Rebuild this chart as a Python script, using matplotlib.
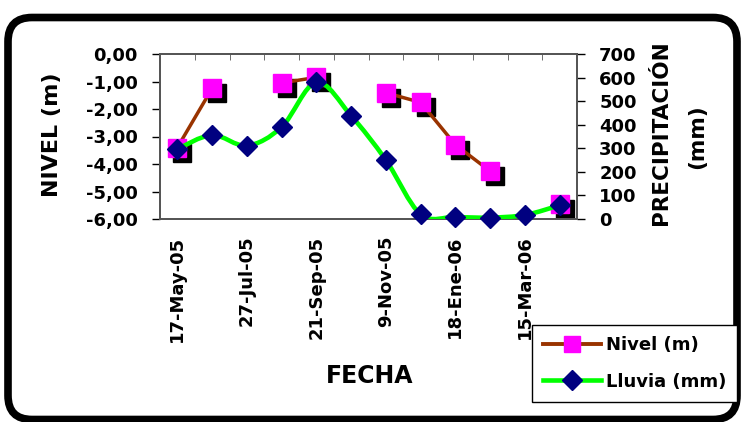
import matplotlib
matplotlib.use("Agg")
import matplotlib.pyplot as plt
import numpy as np
from matplotlib.path import Path
from matplotlib.patches import PathPatch, FancyBboxPatch
from matplotlib.lines import Line2D
from matplotlib.ticker import FuncFormatter
from matplotlib.transforms import offset_copy, IdentityTransform

plt.rcParams['font.family'] = ['DejaVu Sans']
plt.rcParams['font.weight'] = 'bold'

# data
fechas = ["17-May-05", "", "27-Jul-05", "", "21-Sep-05", "", "9-Nov-05", "",
          "18-Ene-06", "", "15-Mar-06", ""]
nivel = [-3.40, -1.25, np.nan, -1.05, -0.85, np.nan, -1.41, -1.76, -3.30, -4.26, np.nan, -5.45]
lluvia = [297, 356, 311, 390, 580, 438, 250, 20, 9, 6, 17, 58]

x = np.arange(len(fechas))
W, H = 742, 422

fig = plt.figure(figsize=(7.42, 4.22), dpi=100)
ax = fig.add_axes([160/W, 1-219/H, 417/W, 165/H])
ax2 = ax.twinx()

# nivel with black shadow
shadow = offset_copy(ax.transData, fig=fig, x=5, y=-5, units='dots')
ax.plot(x, nivel, linestyle='none', marker='s', markersize=12.5, color='black',
        transform=shadow, zorder=2, clip_on=False)
ax.plot(x, nivel, color='#993300', linewidth=2.5, zorder=3)
ax.plot(x, nivel, linestyle='none', marker='s', markersize=12.5, markerfacecolor='#ff00ff',
        markeredgecolor='#ff00ff', zorder=4, clip_on=False)

ax.set_xlim(-0.5, len(x) - 0.5)
ax.set_ylim(-6, 0)
ax.set_yticks(np.arange(-6, 0.1, 1))
ax.yaxis.set_major_formatter(FuncFormatter(lambda v, p: f"{v:.2f}".replace('.', ',').replace('-0,00', '0,00')))
ax.set_xticks(x)
ax.set_xticklabels(fechas, rotation=90, fontsize=13, fontweight='bold')
ax.set_xticks(x[:-1] + 0.5, minor=True)
ax.tick_params(axis='x', which='major', length=0, pad=12)
ax.tick_params(axis='x', which='minor', bottom=False, top=True, direction='in', length=4, color='#555555')
ax.tick_params(axis='y', length=6, width=1, pad=10, labelsize=13)

# smoothed rain line (bezier through the points)
pts = np.column_stack([x, lluvia]).astype(float)
verts = [tuple(pts[0])]
codes = [Path.MOVETO]
n = len(pts)
for i in range(n - 1):
    p0 = pts[max(i - 1, 0)]
    p1 = pts[i]
    p2 = pts[i + 1]
    p3 = pts[min(i + 2, n - 1)]
    c1 = p1 + (p2 - p0) / 6
    c2 = p2 - (p3 - p1) / 6
    verts += [tuple(c1), tuple(c2), tuple(p2)]
    codes += [Path.CURVE4] * 3
ax2.add_patch(PathPatch(Path(verts, codes), fill=False, edgecolor='#00ff00', linewidth=3.3, zorder=3))
ax2.plot(x, lluvia, linestyle='none', marker='D', markersize=10.5, color='#000080', zorder=4, clip_on=False)
ax2.set_ylim(0, 700)
ax2.set_yticks(np.arange(0, 701, 100))
ax2.tick_params(axis='y', length=6, width=1, pad=10, labelsize=13)

for a in (ax, ax2):
    for s in a.spines.values():
        s.set_color('#555555')
        s.set_linewidth(1.3)

# axis titles
fig.text(52/W, 1-135/H, "NIVEL (m)", rotation=90, ha='center', va='center', fontsize=16, fontweight='bold')
fig.text(661/W, 1-133/H, "PRECIPITACIÓN", rotation=90, ha='center', va='center', fontsize=15.5, fontweight='bold')
fig.text(697/W, 1-137/H, "(mm)", rotation=90, ha='center', va='center', fontsize=15.5, fontweight='bold')
fig.text(370/W, 1-376/H, "FECHA", ha='center', va='center', fontsize=17, fontweight='bold')

# legend
handles = [
    Line2D([], [], color='#993300', linewidth=2.8, marker='s', markersize=12,
           markerfacecolor='#ff00ff', markeredgecolor='#ff00ff'),
    Line2D([], [], color='#00ff00', linewidth=3.3, marker='D', markersize=10,
           markerfacecolor='#000080', markeredgecolor='#000080'),
]
leg = fig.legend(handles, ["Nivel (m)", "Lluvia (mm)"], loc='upper left',
                 bbox_to_anchor=(532/W, 1-325/H), fancybox=False, edgecolor='black',
                 framealpha=1, handlelength=3.2, handletextpad=0.3, labelspacing=1.05,
                 borderpad=0.6, borderaxespad=0, prop={'size': 13, 'weight': 'bold'})
leg.get_frame().set_linewidth(1.0)
leg.set_zorder(10)

# rounded outer frame
frame = FancyBboxPatch((8, 2.5), 729, 402, boxstyle="round,pad=0,rounding_size=24",
                       transform=IdentityTransform(), fill=False, edgecolor='black', linewidth=5.5)
fig.patches.append(frame)

fig.savefig("out.png", dpi=100)
